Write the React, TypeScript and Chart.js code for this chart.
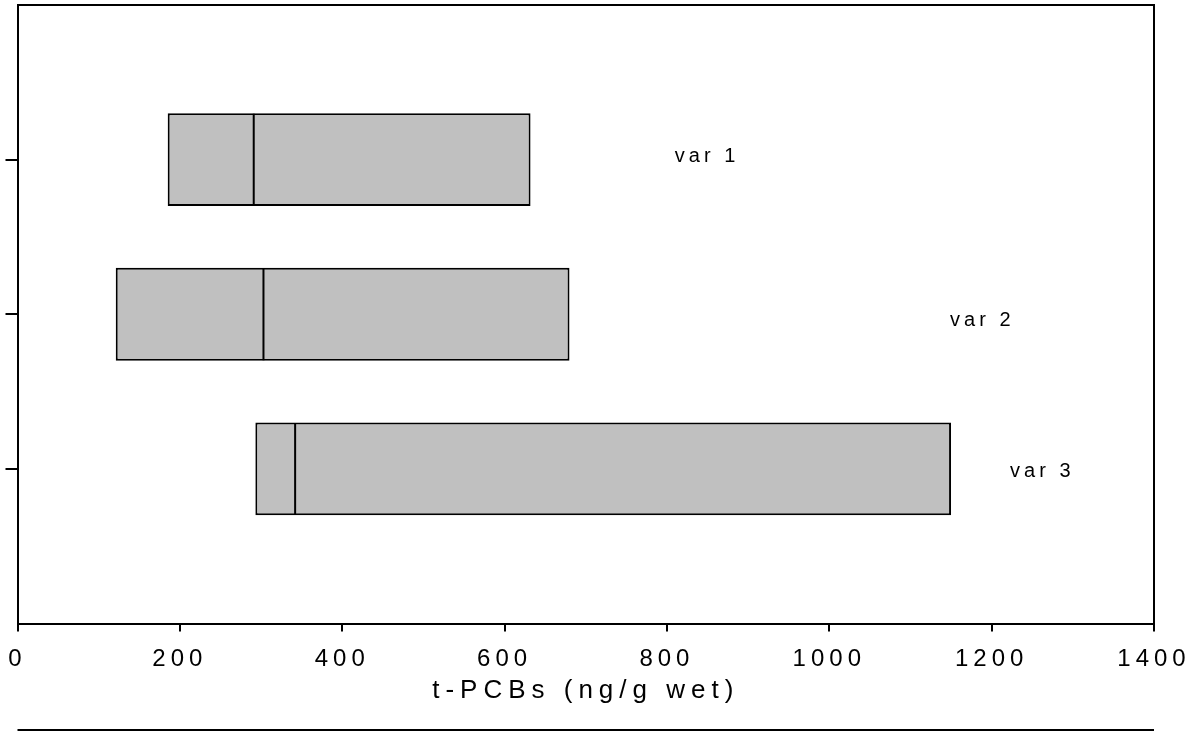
import React, { useEffect, useRef } from 'react';
import { Chart, registerables } from 'chart.js';
Chart.register(...registerables);

const categories = ['var 1', 'var 2', 'var 3'];
const categoryPositions = [1, 2, 3];
const lowValues = [185, 121, 293];
const medianValues = [291, 303, 342];
const highValues = [632, 680, 1150];
const labelXValues = [847, 1186, 1260];
const labelYValues = [0.98, 2.04, 3.02];
const xTickValues = [0, 200, 400, 600, 800, 1000, 1200, 1400];
const xTitle = 't-PCBs (ng/g wet)';

const FONT = '"Liberation Sans", Arial, sans-serif';

const framePlugin = {
  id: 'framePlugin',
  beforeDraw(chart: any) {
    chart.ctx.letterSpacing = '6px';
  },
  afterDatasetsDraw(chart: any) {
    const { ctx, scales } = chart;
    ctx.save();
    ctx.letterSpacing = '4px';
    ctx.fillStyle = '#000';
    ctx.font = `20px ${FONT}`;
    ctx.textAlign = 'center';
    ctx.textBaseline = 'middle';
    categories.forEach((c, i) => {
      ctx.fillText(c, scales.x.getPixelForValue(labelXValues[i]) + 2, scales.y.getPixelForValue(labelYValues[i]));
    });
    ctx.restore();
    ctx.letterSpacing = '5px';
  },
  afterDraw(chart: any) {
    const { ctx, chartArea } = chart;
    ctx.save();
    ctx.letterSpacing = '0px';
    ctx.strokeStyle = '#000';
    ctx.lineWidth = 2;
    ctx.beginPath();
    ctx.moveTo(chartArea.left, chartArea.top);
    ctx.lineTo(chartArea.right, chartArea.top);
    ctx.lineTo(chartArea.right, chartArea.bottom);
    ctx.stroke();
    ctx.beginPath();
    ctx.moveTo(chartArea.left, chart.height - 2);
    ctx.lineTo(chartArea.right, chart.height - 2);
    ctx.stroke();
    ctx.restore();
  },
};

const zeroPadding = (scale: any) => {
  scale.paddingLeft = 0;
  scale.paddingRight = 0;
  scale.paddingTop = 0;
  scale.paddingBottom = 0;
};

export default function App() {
  const ref = useRef<HTMLCanvasElement>(null);
  useEffect(() => {
    if (!ref.current) return;
    const chart = new Chart(ref.current, {
      type: 'bar',
      data: {
        datasets: [
          {
            type: 'bar',
            label: 'range',
            order: 2,
            data: categoryPositions.map((y, i) => ({ x: [lowValues[i], highValues[i]], y })) as any,
            backgroundColor: '#c0c0c0',
            borderColor: '#000',
            borderWidth: 2,
            borderSkipped: false,
            barPercentage: 0.6,
            categoryPercentage: 1,
          } as any,
          {
            type: 'scatter',
            label: 'median',
            order: 1,
            data: categoryPositions.map((y, i) => ({ x: medianValues[i], y })),
            pointStyle: 'line',
            rotation: 90,
            radius: 46,
            borderColor: '#000',
            borderWidth: 2,
          } as any,
        ],
      },
      options: {
        indexAxis: 'y',
        responsive: false,
        animation: false,
        events: [],
        layout: { autoPadding: false, padding: { top: 5, right: 43, left: 0, bottom: 0 } },
        plugins: { legend: { display: false }, tooltip: { enabled: false } },
        scales: {
          x: {
            type: 'linear',
            min: 0,
            max: 1400,
            offset: false,
            afterBuildTicks: (scale: any) => {
              scale.ticks = xTickValues.map((v) => ({ value: v }));
            },
            afterFit: (scale: any) => {
              scale.height = 108.5;
              zeroPadding(scale);
            },
            ticks: {
              color: '#000',
              font: { family: FONT, size: 24 },
              padding: 13,
              maxRotation: 0,
              z: 1,
              callback: (v: any) => String(v),
            },
            grid: {
              offset: false,
              drawOnChartArea: false,
              drawTicks: true,
              tickLength: 8,
              color: '#000',
              lineWidth: 2,
            },
            border: { display: true, color: '#000', width: 2 },
            title: {
              display: true,
              text: xTitle,
              color: '#000',
              font: { family: FONT, size: 26 },
              padding: { top: 0, bottom: 26 },
            },
          },
          y: {
            type: 'linear',
            min: 0,
            max: 4,
            reverse: true,
            offset: false,
            afterBuildTicks: (scale: any) => {
              scale.ticks = categoryPositions.map((v) => ({ value: v }));
            },
            afterFit: (scale: any) => {
              scale.width = 17.5;
              zeroPadding(scale);
            },
            ticks: { display: false },
            grid: {
              offset: false,
              drawOnChartArea: false,
              drawTicks: true,
              tickLength: 12,
              color: '#000',
              lineWidth: 2,
            },
            border: { display: true, color: '#000', width: 2 },
          },
        },
      } as any,
      plugins: [framePlugin],
    });
    return () => chart.destroy();
  }, []);
  return (
    <div style={{ position: 'absolute', left: 0, top: 0, width: 1197, height: 732, background: '#fff' }}>
      <canvas ref={ref} width={1197} height={732} />
    </div>
  );
}
